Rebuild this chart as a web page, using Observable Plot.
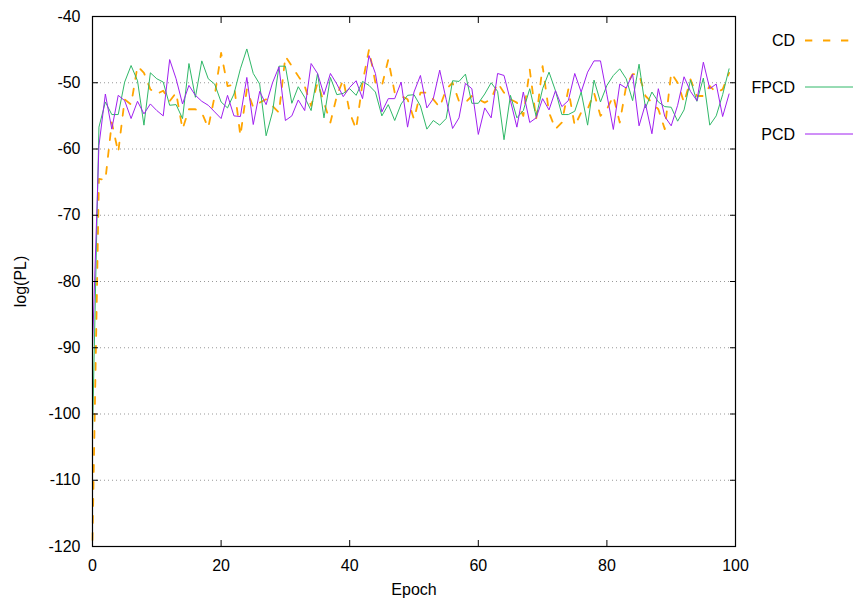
<!DOCTYPE html>
<html><head><meta charset="utf-8">
<script src="https://cdn.jsdelivr.net/npm/d3@7"></script>
<script src="https://cdn.jsdelivr.net/npm/@observablehq/plot@0.6"></script>
<style>
body{margin:0;background:#fff;}
#wrap{position:relative;width:857px;height:598px;font-family:"Liberation Sans",Arial,sans-serif;}
#legend{position:absolute;left:0;top:0;}
</style></head><body><div id="wrap"></div>
<script>
const epochs = d3.range(0, 100);
const cd = [-119,-64.5,-64.7,-56,-60.5,-52.5,-53.3,-47.5,-48.5,-51,
  -51.7,-51.2,-52.8,-51.5,-57,-54,-54,-54.5,-56.8,-52,
  -45.5,-50.5,-50.3,-58,-51,-53.7,-53,-52.5,-53.5,-54.5,
  -46,-47.5,-49,-50.5,-53.5,-50,-53,-56,-52,-49.5,
  -54.5,-57,-50,-45,-50,-50.5,-46.5,-51.5,-52,-52.5,
  -55.5,-51.5,-51.5,-52.5,-53.7,-51,-50,-52.8,-53,-52,
  -52.5,-53,-52.5,-50,-51.5,-52.5,-53,-55,-48,-55.5,
  -47.5,-54.5,-57,-56,-51,-56.5,-54.5,-54,-51.5,-55,
  -54,-52,-56,-50.5,-48.7,-48.7,-52,-53,-54,-57,
  -48.5,-50,-53,-49.5,-52,-52,-50.5,-51.5,-51,-48.5];
const fpcd = [-103,-56.7,-52.9,-54.8,-54.8,-49.9,-47.4,-49.7,-56.4,-48.5,
  -49.4,-49.9,-53.4,-53.3,-55.4,-47.1,-52.2,-46.7,-49.4,-50.2,
  -52.9,-53.8,-51.7,-47.9,-44.9,-48.6,-50.2,-58,-54.4,-47.5,
  -47.5,-53.1,-50.6,-52.2,-54.2,-48.6,-55.3,-49.2,-51.8,-51.6,
  -50.9,-51.9,-49.8,-50.4,-51.4,-55,-53.3,-55.7,-53.2,-51.9,
  -51.8,-53.5,-57,-55.7,-56.4,-55.4,-49.7,-49.8,-48.7,-53.1,
  -53.1,-51.7,-50,-51.3,-58.6,-51.9,-55.3,-54.2,-50.9,-55.1,
  -50.9,-48.4,-51.2,-54.8,-54.8,-54.3,-51.4,-56.4,-49.6,-52.9,
  -50.4,-48.9,-47.9,-49.4,-52.7,-47.2,-53.8,-51.4,-52.9,-53.6,
  -53.7,-55.8,-54.1,-49.6,-52.8,-49.3,-56.4,-55,-51.8,-47.9];
const pcd = [-90,-59.5,-51.7,-57,-51.9,-52.7,-55.4,-52.8,-54.7,-53.2,
  -54.2,-55,-46.5,-49.4,-53.2,-50.4,-51.9,-52.8,-53.4,-54.4,
  -55.4,-51.9,-55,-55.1,-49.2,-56.3,-51.3,-53.3,-50,-47.6,
  -55.7,-55,-52.6,-54.2,-47.1,-48.6,-51.8,-48.6,-50.2,-52.1,
  -50.7,-49.7,-52.4,-45.9,-48.6,-54.4,-52.4,-52.4,-49.9,-56.7,
  -51.4,-48.9,-53.8,-52.4,-48.1,-52.5,-56.9,-55.3,-50.1,-50.9,
  -57.8,-53.8,-55.3,-48.6,-48.9,-52.7,-56.7,-51.4,-56,-55.3,
  -52.4,-54.1,-51.2,-53.6,-52.7,-48.6,-51.4,-48.4,-46.7,-46.7,
  -51.8,-57.05,-50.2,-50.8,-48.7,-56.5,-53.2,-57.7,-50.9,-55.1,
  -56.5,-53.4,-49.1,-51.3,-52.7,-46.9,-50.9,-50.2,-55.1,-51.7];
const seriesNames = ["CD", "FPCD", "PCD"];
const seriesColors = ["#ffa500", "#30b868", "#a020f0"];
const xTicks = [0, 20, 40, 60, 80, 100];
const yTicks = [-120, -110, -100, -90, -80, -70, -60, -50, -40];

const seriesValues = [cd, fpcd, pcd];
const rows = [];
seriesValues.forEach((vals, i) => vals.forEach((v, j) => rows.push({series: seriesNames[i], epoch: epochs[j], value: v})));
const font = '"Liberation Sans", Arial, sans-serif';
const fmt = d => String(d);

const plot = Plot.plot({
  width: 857, height: 598,
  marginLeft: 92, marginRight: 122, marginTop: 16, marginBottom: 52,
  style: {fontFamily: font, fontSize: "16px", color: "#000", background: "#fff", overflow: "visible"},
  x: {domain: [0, 100]},
  y: {domain: [-120, -40]},
  marks: [
    Plot.gridY(yTicks.slice(1, -1), {stroke: "#999", strokeOpacity: 1, strokeDasharray: "1,3"}),
    Plot.line(rows.filter(d => d.series === "CD"), {x: "epoch", y: "value", stroke: seriesColors[0], strokeWidth: 1.8, strokeDasharray: "7,10"}),
    Plot.line(rows.filter(d => d.series === "FPCD"), {x: "epoch", y: "value", stroke: seriesColors[1], strokeWidth: 1}),
    Plot.line(rows.filter(d => d.series === "PCD"), {x: "epoch", y: "value", stroke: seriesColors[2], strokeWidth: 1}),
    Plot.frame({stroke: "#000", strokeWidth: 1.2}),
    Plot.axisX(xTicks, {anchor: "bottom", tickSize: 0, tickPadding: 13, tickFormat: fmt, label: "Epoch", labelAnchor: "center", labelArrow: "none", labelOffset: 48}),
    Plot.axisX(xTicks, {anchor: "bottom", tickSize: 6, dy: -6, tickFormat: () => "", label: null}),
    Plot.axisX(xTicks, {anchor: "top", tickSize: 6, dy: 6, tickFormat: () => "", label: null}),
    Plot.axisY(yTicks, {anchor: "left", tickSize: 0, tickPadding: 12, tickFormat: fmt, label: "log(PL)", labelAnchor: "center", labelArrow: "none", labelOffset: 78}),
    Plot.axisY(yTicks, {anchor: "left", tickSize: 6, dx: 6, tickFormat: () => "", label: null}),
    Plot.axisY(yTicks, {anchor: "right", tickSize: 6, dx: -6, tickFormat: () => "", label: null})
  ]
});
const wrap = document.getElementById("wrap");
wrap.appendChild(plot);

// legend
const leg = d3.select(wrap).append("svg").attr("id", "legend").attr("width", 857).attr("height", 598);
const legendY = [40.5, 87, 134];
seriesNames.forEach((name, i) => {
  leg.append("text").attr("x", 795).attr("y", legendY[i]).attr("dy", "0.35em")
    .attr("text-anchor", "end").attr("font-family", font).attr("font-size", 16).attr("fill", "#000").text(name);
  leg.append("line").attr("x1", 805).attr("x2", 853).attr("y1", legendY[i]).attr("y2", legendY[i])
    .attr("stroke", seriesColors[i]).attr("stroke-width", i === 0 ? 2 : 1)
    .attr("stroke-dasharray", i === 0 ? "7.3,10.7" : null);
});
</script></body></html>
